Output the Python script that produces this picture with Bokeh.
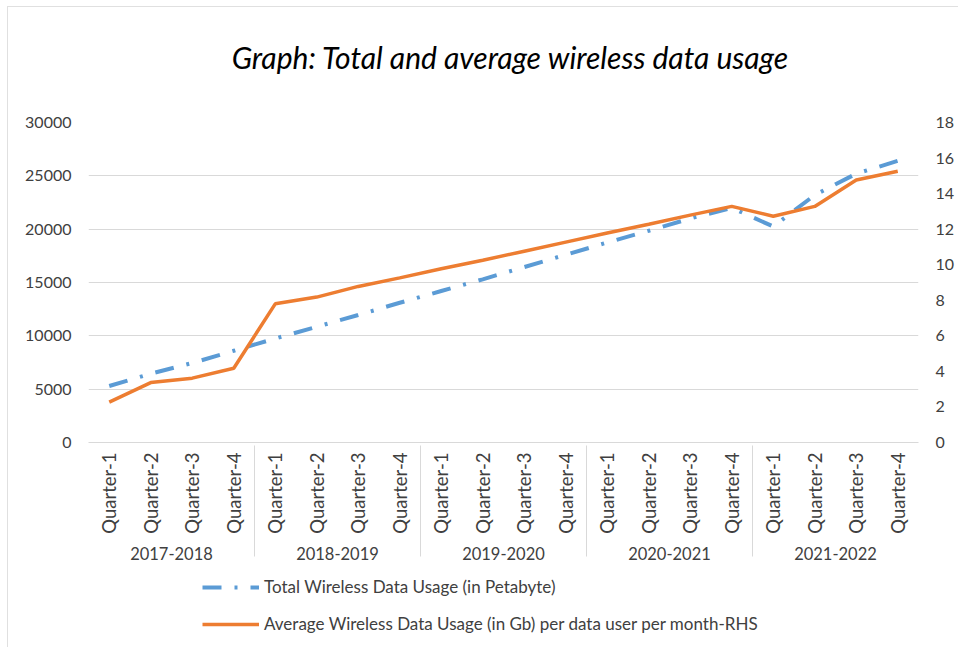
import math
from bokeh.plotting import figure
from bokeh.layouts import column
from bokeh.models import (FactorRange, Range1d, LinearAxis, SingleIntervalTicker,
                          Legend, LegendItem, ColumnDataSource, Label)
from bokeh.embed import file_html
from bokeh.resources import INLINE

years = ["2017-2018", "2018-2019", "2019-2020", "2020-2021", "2021-2022"]
quarters = ["Quarter-1", "Quarter-2", "Quarter-3", "Quarter-4"]

# Total Wireless Data Usage (in Petabyte) - left axis
total_pb = [5300, 6450, 7450, 8600,
            9750, 10850, 11950, 13100,
            14200, 15300, 16450, 17600,
            18750, 19850, 21000, 22000,
            20250, 23200, 25200, 26400]
# Average Wireless Data Usage (in Gb) per data user per month - right axis
avg_gb = [2.27, 3.37, 3.62, 4.18,
          7.80, 8.18, 8.78, 9.26,
          9.77, 10.25, 10.76, 11.27,
          11.78, 12.28, 12.79, 13.28,
          12.73, 13.28, 14.77, 15.26]

left_max, left_step = 30000, 5000
right_max, right_step = 18, 2

title_text = "Graph: Total and average wireless data usage"
label_total = "Total Wireless Data Usage (in Petabyte)"
label_avg = "Average Wireless Data Usage (in Gb) per data user per month-RHS"

factors = [(y, q) for y in years for q in quarters]
src = ColumnDataSource(data=dict(x=factors, total=total_pb, avg=avg_gb))

FONT = "Lato"
TXT = "#404040"
GRID = "#d9d9d9"
BLUE = "#5B9BD5"
ORANGE = "#ED7D31"
BLUE_DASH = "19 13 3 13"
W = 950

# ---- title strip ----
tf = figure(width=W, height=80, x_range=Range1d(0, 1), y_range=Range1d(0, 1),
            x_axis_location=None, y_axis_location=None,
            output_backend="svg", toolbar_location=None, min_border=0)
tf.grid.visible = False
tf.outline_line_color = None
tf.add_layout(Label(x=422, y=31, x_units="screen", y_units="screen",
                    text=title_text, text_font=FONT, text_font_style="italic",
                    text_font_size="30px", text_color="#000000",
                    text_align="center", text_baseline="middle"))

# ---- main chart ----
p = figure(x_range=FactorRange(factors=factors, factor_padding=0, group_padding=0,
                               subgroup_padding=0, range_padding=0),
           y_range=Range1d(0, left_max),
           frame_width=830, frame_height=320,
           output_backend="svg", toolbar_location=None,
           min_border_left=80, min_border_right=40, min_border_top=35,
           min_border_bottom=133)
p.extra_y_ranges = {"rhs": Range1d(0, right_max)}

p.outline_line_color = None
p.xgrid.visible = False
p.ygrid.grid_line_color = GRID
p.ygrid.grid_line_width = 1

yl = p.yaxis[0]
yl.ticker = SingleIntervalTicker(interval=left_step)
yr = LinearAxis(y_range_name="rhs", ticker=SingleIntervalTicker(interval=right_step))
p.add_layout(yr, "right")
for ax in (yl, yr):
    ax.axis_line_color = None
    ax.major_tick_line_color = None
    ax.minor_tick_line_color = None
    ax.major_tick_out = 0
    ax.major_tick_in = 0
    ax.minor_tick_out = 0
    ax.major_label_text_font = FONT
    ax.major_label_text_font_size = "16px"
    ax.major_label_text_color = TXT
    ax.major_label_standoff = 17

xa = p.xaxis[0]
xa.axis_line_color = GRID
xa.major_tick_line_color = None
xa.minor_tick_line_color = None
xa.major_tick_out = 0
xa.major_tick_in = 0
xa.major_label_orientation = math.pi / 2
xa.major_label_text_font = FONT
xa.major_label_text_font_size = "18.5px"
xa.major_label_text_color = TXT
xa.major_label_standoff = 10
xa.group_text_font = FONT
xa.group_text_font_size = "16.5px"
xa.group_text_color = TXT
xa.group_text_font_style = "normal"
xa.group_label_orientation = "horizontal"
xa.separator_line_color = GRID
xa.separator_line_width = 1

blue = p.line(x="x", y="total", source=src, line_color=BLUE, line_width=4,
              line_dash=BLUE_DASH)
orange = p.line(x="x", y="avg", source=src, y_range_name="rhs",
                line_color=ORANGE, line_width=3.5)

# ---- legend strip (same series, drawn out of view; only the legend shows) ----
lf = figure(width=W, height=72,
            x_range=FactorRange(factors=factors, factor_padding=0, group_padding=0,
                                subgroup_padding=0, range_padding=0),
            y_range=Range1d(-2, -1),
            x_axis_location=None, y_axis_location=None,
            output_backend="svg", toolbar_location=None, min_border=0)
lf.grid.visible = False
lf.outline_line_color = None
lb = lf.line(x="x", y="total", source=src, line_color=BLUE, line_width=4,
             line_dash=BLUE_DASH)
lo = lf.line(x="x", y="avg", source=src, line_color=ORANGE, line_width=3.5)

legend = Legend(items=[LegendItem(label=label_total, renderers=[lb]),
                       LegendItem(label=label_avg, renderers=[lo])],
                orientation="vertical", location=(114, 13),
                border_line_color=None, background_fill_alpha=0,
                label_text_font=FONT, label_text_font_size="17px",
                label_text_color=TXT, glyph_width=57, glyph_height=20,
                label_height=20, spacing=16, label_standoff=5, padding=4, margin=0)
lf.add_layout(legend, "center")

layout = column(tf, p, lf, spacing=0)
layout.styles = {"border-top": "1px solid #e0e0e0", "border-left": "1px solid #e0e0e0",
                 "margin-left": "7px", "margin-top": "6px"}

open("out.html", "w").write(file_html(layout, INLINE))
